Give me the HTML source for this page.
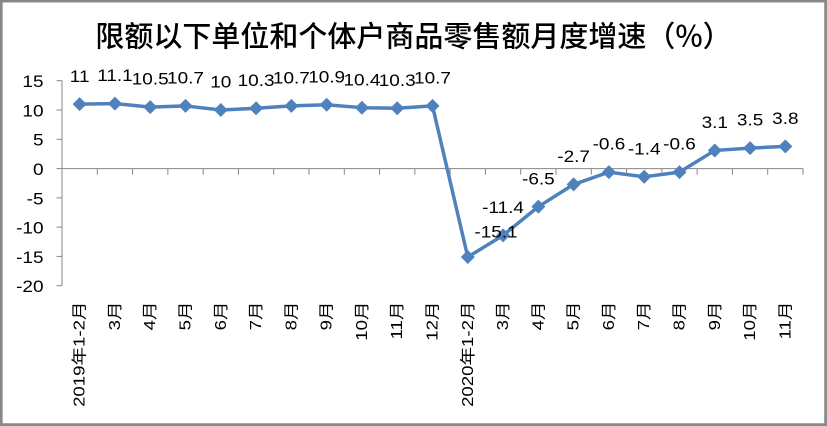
<!DOCTYPE html>
<html><head><meta charset="utf-8"><style>
html,body{margin:0;padding:0;background:#fff;}
svg{display:block;}
text{font-family:"Liberation Sans","Noto Sans CJK SC",sans-serif;fill:#000;}
</style></head><body>
<svg width="827" height="426" viewBox="0 0 827 426" xmlns="http://www.w3.org/2000/svg">
<rect x="0" y="0" width="827" height="426" fill="#fff"/>
<rect x="1.3" y="1.1" width="824.3" height="423.5" fill="none" stroke="#878787" stroke-width="2.7"/>
<text x="413.5" y="46.5" text-anchor="middle" font-size="29" style="font-family:'Noto Sans CJK SC','Liberation Sans',sans-serif;font-weight:500">限额以下单位和个体户商品零售额月度增速（%）</text>
<g stroke="#868686" stroke-width="1" fill="none">
<line x1="62" y1="80.7" x2="62" y2="285.7"/>
<line x1="56.5" y1="80.7" x2="62" y2="80.7"/>
<line x1="56.5" y1="110" x2="62" y2="110"/>
<line x1="56.5" y1="139.3" x2="62" y2="139.3"/>
<line x1="56.5" y1="168.6" x2="62" y2="168.6"/>
<line x1="56.5" y1="197.9" x2="62" y2="197.9"/>
<line x1="56.5" y1="227.1" x2="62" y2="227.1"/>
<line x1="56.5" y1="256.4" x2="62" y2="256.4"/>
<line x1="56.5" y1="285.7" x2="62" y2="285.7"/>
<line x1="62" y1="168.6" x2="803.3" y2="168.6"/>
<path d="M97.29 168.6v6M132.57 168.6v6M167.86 168.6v6M203.14 168.6v6M238.43 168.6v6M273.71 168.6v6M309 168.6v6M344.29 168.6v6M379.57 168.6v6M414.86 168.6v6M450.14 168.6v6M485.43 168.6v6M520.71 168.6v6M556 168.6v6M591.29 168.6v6M626.57 168.6v6M661.86 168.6v6M697.14 168.6v6M732.43 168.6v6M767.71 168.6v6M803 168.6v6"/>
</g>
<g font-size="16.5" text-anchor="end">
<g transform="translate(43.5,81.5) scale(1.15,1)"><text dominant-baseline="central">15</text></g>
<g transform="translate(43.5,110.8) scale(1.15,1)"><text dominant-baseline="central">10</text></g>
<g transform="translate(43.5,140.1) scale(1.15,1)"><text dominant-baseline="central">5</text></g>
<g transform="translate(43.5,169.4) scale(1.15,1)"><text dominant-baseline="central">0</text></g>
<g transform="translate(43.5,198.7) scale(1.15,1)"><text dominant-baseline="central">-5</text></g>
<g transform="translate(43.5,227.9) scale(1.15,1)"><text dominant-baseline="central">-10</text></g>
<g transform="translate(43.5,257.2) scale(1.15,1)"><text dominant-baseline="central">-15</text></g>
<g transform="translate(43.5,286.5) scale(1.15,1)"><text dominant-baseline="central">-20</text></g>
</g>
<polyline fill="none" stroke="#4F81BD" stroke-width="3.5" stroke-linejoin="round" points="79.64,104.17 114.93,103.59 150.21,107.1 185.5,105.93 220.79,110.03 256.07,108.27 291.36,105.93 326.64,104.76 361.93,107.69 397.21,108.27 432.5,105.93 467.79,257.04 503.07,235.37 538.36,206.67 573.64,184.41 608.93,172.11 644.21,176.8 679.5,172.11 714.79,150.44 750.07,148.1 785.36,146.34"/>
<g fill="#4F81BD">
<path d="M79.64 97.17l7 7-7 7-7-7z"/>
<path d="M114.93 96.59l7 7-7 7-7-7z"/>
<path d="M150.21 100.1l7 7-7 7-7-7z"/>
<path d="M185.5 98.93l7 7-7 7-7-7z"/>
<path d="M220.79 103.03l7 7-7 7-7-7z"/>
<path d="M256.07 101.27l7 7-7 7-7-7z"/>
<path d="M291.36 98.93l7 7-7 7-7-7z"/>
<path d="M326.64 97.76l7 7-7 7-7-7z"/>
<path d="M361.93 100.69l7 7-7 7-7-7z"/>
<path d="M397.21 101.27l7 7-7 7-7-7z"/>
<path d="M432.5 98.93l7 7-7 7-7-7z"/>
<path d="M467.79 250.04l7 7-7 7-7-7z"/>
<path d="M503.07 228.37l7 7-7 7-7-7z"/>
<path d="M538.36 199.67l7 7-7 7-7-7z"/>
<path d="M573.64 177.41l7 7-7 7-7-7z"/>
<path d="M608.93 165.11l7 7-7 7-7-7z"/>
<path d="M644.21 169.8l7 7-7 7-7-7z"/>
<path d="M679.5 165.11l7 7-7 7-7-7z"/>
<path d="M714.79 143.44l7 7-7 7-7-7z"/>
<path d="M750.07 141.1l7 7-7 7-7-7z"/>
<path d="M785.36 139.34l7 7-7 7-7-7z"/>
</g>
<g font-size="16.5" text-anchor="middle">
<g transform="translate(79.64,76.2) scale(1.15,1)"><text dominant-baseline="central">11</text></g>
<g transform="translate(114.93,75.6) scale(1.15,1)"><text dominant-baseline="central">11.1</text></g>
<g transform="translate(150.21,79.1) scale(1.15,1)"><text dominant-baseline="central">10.5</text></g>
<g transform="translate(185.5,77.9) scale(1.15,1)"><text dominant-baseline="central">10.7</text></g>
<g transform="translate(220.79,82) scale(1.15,1)"><text dominant-baseline="central">10</text></g>
<g transform="translate(256.07,80.3) scale(1.15,1)"><text dominant-baseline="central">10.3</text></g>
<g transform="translate(291.36,77.9) scale(1.15,1)"><text dominant-baseline="central">10.7</text></g>
<g transform="translate(326.64,76.8) scale(1.15,1)"><text dominant-baseline="central">10.9</text></g>
<g transform="translate(361.93,79.7) scale(1.15,1)"><text dominant-baseline="central">10.4</text></g>
<g transform="translate(397.21,80.3) scale(1.15,1)"><text dominant-baseline="central">10.3</text></g>
<g transform="translate(432.5,77.9) scale(1.15,1)"><text dominant-baseline="central">10.7</text></g>
<g transform="translate(496,231.7) scale(1.15,1)"><text dominant-baseline="central">-15.1</text></g>
<g transform="translate(503.07,207.4) scale(1.15,1)"><text dominant-baseline="central">-11.4</text></g>
<g transform="translate(538.36,178.7) scale(1.15,1)"><text dominant-baseline="central">-6.5</text></g>
<g transform="translate(573.64,156.4) scale(1.15,1)"><text dominant-baseline="central">-2.7</text></g>
<g transform="translate(608.93,144.1) scale(1.15,1)"><text dominant-baseline="central">-0.6</text></g>
<g transform="translate(644.21,148.8) scale(1.15,1)"><text dominant-baseline="central">-1.4</text></g>
<g transform="translate(679.5,144.1) scale(1.15,1)"><text dominant-baseline="central">-0.6</text></g>
<g transform="translate(714.79,122.4) scale(1.15,1)"><text dominant-baseline="central">3.1</text></g>
<g transform="translate(750.07,120.1) scale(1.15,1)"><text dominant-baseline="central">3.5</text></g>
<g transform="translate(785.36,118.3) scale(1.15,1)"><text dominant-baseline="central">3.8</text></g>
</g>
<g font-size="15.5" text-anchor="end">
<g transform="translate(79.64,301.5) rotate(-90) scale(1.2,1)"><text dominant-baseline="central">2019年1-2月</text></g>
<g transform="translate(114.93,301.5) rotate(-90) scale(1.2,1)"><text dominant-baseline="central">3月</text></g>
<g transform="translate(150.21,301.5) rotate(-90) scale(1.2,1)"><text dominant-baseline="central">4月</text></g>
<g transform="translate(185.5,301.5) rotate(-90) scale(1.2,1)"><text dominant-baseline="central">5月</text></g>
<g transform="translate(220.79,301.5) rotate(-90) scale(1.2,1)"><text dominant-baseline="central">6月</text></g>
<g transform="translate(256.07,301.5) rotate(-90) scale(1.2,1)"><text dominant-baseline="central">7月</text></g>
<g transform="translate(291.36,301.5) rotate(-90) scale(1.2,1)"><text dominant-baseline="central">8月</text></g>
<g transform="translate(326.64,301.5) rotate(-90) scale(1.2,1)"><text dominant-baseline="central">9月</text></g>
<g transform="translate(361.93,301.5) rotate(-90) scale(1.2,1)"><text dominant-baseline="central">10月</text></g>
<g transform="translate(397.21,301.5) rotate(-90) scale(1.2,1)"><text dominant-baseline="central">11月</text></g>
<g transform="translate(432.5,301.5) rotate(-90) scale(1.2,1)"><text dominant-baseline="central">12月</text></g>
<g transform="translate(467.79,301.5) rotate(-90) scale(1.2,1)"><text dominant-baseline="central">2020年1-2月</text></g>
<g transform="translate(503.07,301.5) rotate(-90) scale(1.2,1)"><text dominant-baseline="central">3月</text></g>
<g transform="translate(538.36,301.5) rotate(-90) scale(1.2,1)"><text dominant-baseline="central">4月</text></g>
<g transform="translate(573.64,301.5) rotate(-90) scale(1.2,1)"><text dominant-baseline="central">5月</text></g>
<g transform="translate(608.93,301.5) rotate(-90) scale(1.2,1)"><text dominant-baseline="central">6月</text></g>
<g transform="translate(644.21,301.5) rotate(-90) scale(1.2,1)"><text dominant-baseline="central">7月</text></g>
<g transform="translate(679.5,301.5) rotate(-90) scale(1.2,1)"><text dominant-baseline="central">8月</text></g>
<g transform="translate(714.79,301.5) rotate(-90) scale(1.2,1)"><text dominant-baseline="central">9月</text></g>
<g transform="translate(750.07,301.5) rotate(-90) scale(1.2,1)"><text dominant-baseline="central">10月</text></g>
<g transform="translate(785.36,301.5) rotate(-90) scale(1.2,1)"><text dominant-baseline="central">11月</text></g>
</g>
</svg>
</body></html>
